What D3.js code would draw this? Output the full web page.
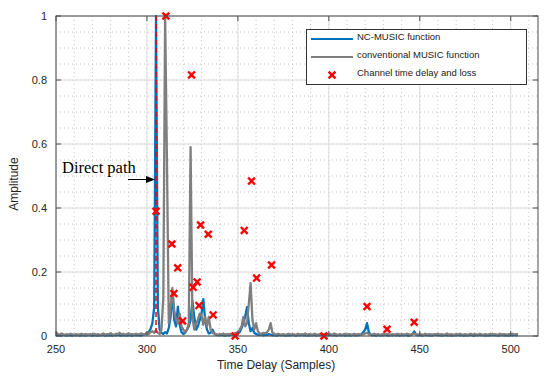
<!DOCTYPE html>
<html>
<head>
<meta charset="utf-8">
<script src="https://d3js.org/d3.v7.min.js"></script>
<style>
  body { margin: 0; background: white; }
</style>
</head>
<body>
<div id="chart"></div>
<script>
// first sample of both curves, one value per sample after it
var startSample = 250;

var ncMusic = [
  0.004,0.002,0.003,0.001,0.004,0.002,0.001,0.003,0.002,0.001,
  0.003,0.002,0.004,0.001,0.002,0.003,0.001,0.002,0.004,0.002,
  0.001,0.003,0.002,0.001,0.003,0.002,0.004,0.001,0.002,0.003,
  0.002,0.001,0.003,0.002,0.005,0.002,0.001,0.003,0.002,0.001,
  0.003,0.002,0.001,0.004,0.002,0.003,0.001,0.002,0.004,0.006,
  0.008,0.012,0.022,0.04,0.09,1.0,0.09,0.02,0.01,0.006,
  0.012,0.008,0.025,0.06,0.14,0.05,0.03,0.092,0.035,0.012,
  0.006,0.01,0.02,0.03,0.05,0.11,0.06,0.02,0.03,0.05,
  0.07,0.115,0.05,0.02,0.008,0.01,0.02,0.008,0.004,0.003,
  0.002,0.004,0.002,0.001,0.003,0.002,0.004,0.006,0.003,0.005,
  0.008,0.012,0.025,0.04,0.06,0.09,0.04,0.015,0.025,0.01,
  0.006,0.004,0.003,0.005,0.002,0.004,0.003,0.006,0.004,0.002,
  0.003,0.001,0.002,0.004,0.002,0.003,0.001,0.002,0.003,0.002,
  0.004,0.002,0.001,0.003,0.002,0.004,0.002,0.003,0.001,0.002,
  0.003,0.002,0.004,0.001,0.003,0.002,0.005,0.002,0.001,0.003,
  0.002,0.004,0.002,0.003,0.001,0.002,0.004,0.002,0.003,0.001,
  0.002,0.003,0.001,0.004,0.002,0.003,0.002,0.004,0.006,0.012,
  0.02,0.04,0.012,0.004,0.002,0.003,0.001,0.004,0.002,0.003,
  0.002,0.004,0.002,0.001,0.003,0.002,0.004,0.002,0.003,0.001,
  0.003,0.002,0.004,0.002,0.001,0.003,0.006,0.014,0.005,0.002,
  0.003,0.001,0.002,0.004,0.002,0.003,0.001,0.002,0.003,0.004,
  0.002,0.003,0.001,0.002,0.004,0.002,0.003,0.002,0.001,0.003,
  0.002,0.004,0.002,0.003,0.001,0.002,0.003,0.002,0.004,0.002,
  0.001,0.003,0.002,0.004,0.002,0.003,0.001,0.002,0.003,0.002,
  0.004,0.002,0.003,0.001,0.002,0.004,0.002,0.003,0.002,0.001,
  0.003,0.002,0.004,0.002,0.003
];

var convMusic = [
  0.012,0.006,0.004,0.008,0.005,0.003,0.006,0.004,0.007,0.005,
  0.004,0.006,0.003,0.005,0.007,0.004,0.006,0.005,0.003,0.006,
  0.005,0.007,0.004,0.006,0.003,0.005,0.008,0.004,0.006,0.005,
  0.009,0.005,0.004,0.007,0.006,0.01,0.005,0.007,0.004,0.006,
  0.008,0.005,0.006,0.004,0.007,0.005,0.006,0.008,0.005,0.007,
  0.01,0.006,0.012,0.015,0.01,0.018,0.01,0.006,0.02,0.12,
  1.0,0.55,0.04,0.09,0.15,0.08,0.05,0.04,0.07,0.03,
  0.02,0.012,0.02,0.04,0.59,0.06,0.02,0.04,0.05,0.07,
  0.065,0.035,0.06,0.03,0.06,0.02,0.01,0.008,0.006,0.004,
  0.006,0.005,0.008,0.004,0.006,0.005,0.007,0.004,0.008,0.01,
  0.012,0.02,0.03,0.06,0.03,0.04,0.1,0.165,0.05,0.02,
  0.04,0.015,0.008,0.006,0.01,0.008,0.012,0.02,0.04,0.01,
  0.006,0.004,0.007,0.005,0.004,0.006,0.003,0.005,0.007,0.004,
  0.006,0.005,0.003,0.007,0.004,0.006,0.005,0.008,0.004,0.006,
  0.005,0.004,0.007,0.005,0.003,0.006,0.004,0.005,0.007,0.004,
  0.006,0.005,0.004,0.008,0.005,0.003,0.006,0.004,0.005,0.007,
  0.004,0.006,0.005,0.003,0.007,0.004,0.006,0.005,0.004,0.006,
  0.008,0.01,0.006,0.004,0.005,0.007,0.004,0.006,0.003,0.005,
  0.006,0.004,0.007,0.005,0.004,0.006,0.003,0.005,0.007,0.004,
  0.006,0.005,0.004,0.007,0.005,0.003,0.006,0.008,0.005,0.004,
  0.006,0.005,0.003,0.007,0.004,0.006,0.005,0.004,0.006,0.005,
  0.007,0.004,0.006,0.003,0.005,0.008,0.004,0.006,0.005,0.003,
  0.006,0.004,0.007,0.005,0.004,0.006,0.003,0.005,0.007,0.004,
  0.006,0.005,0.004,0.007,0.005,0.003,0.006,0.004,0.005,0.007,
  0.004,0.006,0.005,0.003,0.007,0.004,0.006,0.005,0.004,0.006,
  0.005,0.007,0.004,0.006,0.005
];

// channel taps: delay (samples) and loss (amplitude)
var tapDelay = [305, 310.4, 324.5, 313.7, 316.9, 314.8, 319.6, 329.5, 333.7, 325.4, 327.6,
  328.6, 336.4, 348.5, 353.5, 360.3, 357.5, 368.5, 397.3, 421, 432, 446.9];
var tapLoss = [0.39, 1.0, 0.816, 0.2875, 0.213, 0.133, 0.047, 0.347, 0.318, 0.152, 0.169,
  0.095, 0.066, 0.0, 0.33, 0.181, 0.484, 0.222, 0.0, 0.092, 0.021, 0.043];

var directPath = 305;

var xTicks = [250, 300, 350, 400, 450, 500];
var yTicks = [0, 0.2, 0.4, 0.6, 0.8, 1];
var xMinor = d3.range(250, 516, 10);
var yMinor = d3.range(0, 1.001, 0.05);

var legendNames = ["NC-MUSIC function", "conventional MUSIC function", "Channel time delay and loss"];

var w = 550;
var h = 376;
var plotLeft = 56, plotRight = 538, plotTop = 16, plotBottom = 336;
var sans = "'Liberation Sans', Arial, sans-serif";

var svg = d3.select("#chart")
  .append("svg")
  .attr("width", w)
  .attr("height", h)
  .style("font-family", sans);

var xScale = d3.scaleLinear()
  .domain([250, 515])
  .range([plotLeft, plotRight]);

var yScale = d3.scaleLinear()
  .domain([0, 1])
  .range([plotBottom, plotTop]);

// minor grid (dotted)
svg.selectAll("line.xminor")
  .data(xMinor)
  .enter()
  .append("line")
  .attr("class", "xminor")
  .attr("x1", function(d) { return xScale(d); })
  .attr("x2", function(d) { return xScale(d); })
  .attr("y1", plotTop)
  .attr("y2", plotBottom)
  .attr("stroke", "#c4c4c4")
  .attr("stroke-width", 1)
  .attr("stroke-dasharray", "1,3");

svg.selectAll("line.yminor")
  .data(yMinor)
  .enter()
  .append("line")
  .attr("class", "yminor")
  .attr("x1", plotLeft)
  .attr("x2", plotRight)
  .attr("y1", function(d) { return yScale(d); })
  .attr("y2", function(d) { return yScale(d); })
  .attr("stroke", "#c4c4c4")
  .attr("stroke-width", 1)
  .attr("stroke-dasharray", "1,3");

// major grid
svg.selectAll("line.xgrid")
  .data(xTicks)
  .enter()
  .append("line")
  .attr("class", "xgrid")
  .attr("x1", function(d) { return xScale(d); })
  .attr("x2", function(d) { return xScale(d); })
  .attr("y1", plotTop)
  .attr("y2", plotBottom)
  .attr("stroke", "#dcdcdc")
  .attr("stroke-width", 1);

svg.selectAll("line.ygrid")
  .data(yTicks)
  .enter()
  .append("line")
  .attr("class", "ygrid")
  .attr("x1", plotLeft)
  .attr("x2", plotRight)
  .attr("y1", function(d) { return yScale(d); })
  .attr("y2", function(d) { return yScale(d); })
  .attr("stroke", "#dcdcdc")
  .attr("stroke-width", 1);

svg.append("clipPath")
  .attr("id", "plotClip")
  .append("rect")
  .attr("x", plotLeft)
  .attr("y", plotTop - 1)
  .attr("width", plotRight - plotLeft)
  .attr("height", plotBottom - plotTop + 2);

var line = d3.line()
  .x(function(d, i) { return xScale(startSample + i); })
  .y(function(d) { return yScale(d); });

svg.append("path")
  .datum(ncMusic)
  .attr("clip-path", "url(#plotClip)")
  .attr("fill", "none")
  .attr("stroke", "#0072bd")
  .attr("stroke-width", 2.3)
  .attr("stroke-linejoin", "round")
  .attr("d", line);

svg.append("path")
  .datum(convMusic)
  .attr("clip-path", "url(#plotClip)")
  .attr("fill", "none")
  .attr("stroke", "#7f7f7f")
  .attr("stroke-width", 2.3)
  .attr("stroke-linejoin", "round")
  .attr("d", line);

// direct path marker line
svg.append("line")
  .attr("x1", xScale(directPath))
  .attr("x2", xScale(directPath))
  .attr("y1", plotTop)
  .attr("y2", plotBottom)
  .attr("stroke", "#ff0000")
  .attr("stroke-width", 1.5)
  .attr("stroke-dasharray", "5,3");

function cross(g, x, y, s) {
  g.append("path")
    .attr("d", "M" + (x - s) + "," + (y - s) + "L" + (x + s) + "," + (y + s) +
      "M" + (x - s) + "," + (y + s) + "L" + (x + s) + "," + (y - s))
    .attr("stroke", "#ff0000")
    .attr("stroke-width", 2.4)
    .attr("fill", "none");
}

var taps = svg.append("g");
tapDelay.forEach(function(d, i) {
  cross(taps, xScale(d), yScale(tapLoss[i]), 3.4);
});

// frame
svg.append("rect")
  .attr("x", plotLeft)
  .attr("y", plotTop)
  .attr("width", plotRight - plotLeft)
  .attr("height", plotBottom - plotTop)
  .attr("fill", "none")
  .attr("stroke", "#4d4d4d")
  .attr("stroke-width", 1);

// inward ticks on all sides
var tickLen = 5;
xTicks.forEach(function(d) {
  var x = xScale(d);
  svg.append("line").attr("x1", x).attr("x2", x).attr("y1", plotBottom).attr("y2", plotBottom - tickLen)
    .attr("stroke", "#4d4d4d");
  svg.append("line").attr("x1", x).attr("x2", x).attr("y1", plotTop).attr("y2", plotTop + tickLen)
    .attr("stroke", "#4d4d4d");
});
yTicks.forEach(function(d) {
  var y = yScale(d);
  svg.append("line").attr("x1", plotLeft).attr("x2", plotLeft + tickLen).attr("y1", y).attr("y2", y)
    .attr("stroke", "#4d4d4d");
  svg.append("line").attr("x1", plotRight).attr("x2", plotRight - tickLen).attr("y1", y).attr("y2", y)
    .attr("stroke", "#4d4d4d");
});

svg.selectAll("text.xlab")
  .data(xTicks)
  .enter()
  .append("text")
  .attr("class", "xlab")
  .attr("x", function(d) { return xScale(d); })
  .attr("y", 353)
  .attr("text-anchor", "middle")
  .attr("font-size", 11)
  .attr("fill", "#262626")
  .text(function(d) { return d; });

svg.selectAll("text.ylab")
  .data(yTicks)
  .enter()
  .append("text")
  .attr("class", "ylab")
  .attr("x", 47)
  .attr("y", function(d) { return yScale(d) + 4; })
  .attr("text-anchor", "end")
  .attr("font-size", 11)
  .attr("fill", "#262626")
  .text(function(d) { return d; });

svg.append("text")
  .attr("x", 276)
  .attr("y", 369)
  .attr("text-anchor", "middle")
  .attr("font-size", 12)
  .attr("fill", "#262626")
  .text("Time Delay (Samples)");

svg.append("text")
  .attr("transform", "translate(18,184) rotate(-90)")
  .attr("text-anchor", "middle")
  .attr("font-size", 12)
  .attr("fill", "#262626")
  .text("Amplitude");

// annotation
svg.append("text")
  .attr("x", 62)
  .attr("y", 173)
  .style("font-family", "'Liberation Serif', 'Times New Roman', serif")
  .attr("font-size", 16.5)
  .attr("fill", "black")
  .text("Direct path");

svg.append("line")
  .attr("x1", 128)
  .attr("x2", 148)
  .attr("y1", 179.5)
  .attr("y2", 179.5)
  .attr("stroke", "black")
  .attr("stroke-width", 1);

svg.append("path")
  .attr("d", "M155,179.5L146,176L146,183Z")
  .attr("fill", "black");

// legend
var legend = svg.append("g");
legend.append("rect")
  .attr("x", 306.5)
  .attr("y", 29.5)
  .attr("width", 220)
  .attr("height", 55)
  .attr("fill", "white")
  .attr("stroke", "#333333")
  .attr("stroke-width", 1);

var legendY = [39, 57, 75];
legend.append("line")
  .attr("x1", 311).attr("x2", 353).attr("y1", legendY[0]).attr("y2", legendY[0])
  .attr("stroke", "#0072bd").attr("stroke-width", 2);
legend.append("line")
  .attr("x1", 311).attr("x2", 353).attr("y1", legendY[1]).attr("y2", legendY[1])
  .attr("stroke", "#7f7f7f").attr("stroke-width", 2);
cross(legend, 332, legendY[2], 3.4);

legend.selectAll("text")
  .data(legendNames)
  .enter()
  .append("text")
  .attr("x", 357)
  .attr("y", function(d, i) { return legendY[i] + 1; })
  .attr("font-size", 9.5)
  .attr("fill", "#1a1a1a")
  .text(function(d) { return d; });
</script>
</body>
</html>
